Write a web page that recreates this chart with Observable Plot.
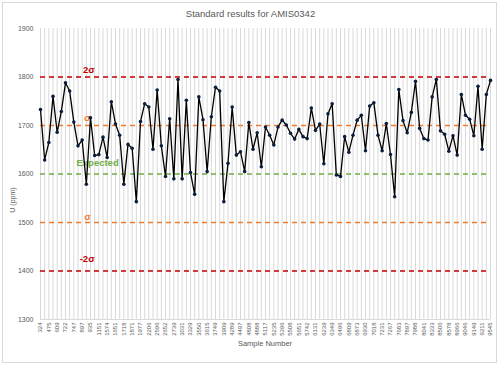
<!DOCTYPE html>
<html><head><meta charset="utf-8">
<script src="https://cdn.jsdelivr.net/npm/d3@7"></script>
<script src="https://cdn.jsdelivr.net/npm/@observablehq/plot@0.6"></script>
<style>
body{margin:0;background:#fff;font-family:"Liberation Sans",Arial,sans-serif;}
#wrap{position:relative;width:501px;height:367px;overflow:hidden;}
#frame{position:absolute;left:2px;top:2px;width:495px;height:361px;border:1px solid #d9d9d9;box-sizing:border-box;}
#title{position:absolute;left:0;width:501px;top:8px;text-align:center;font-size:9.5px;color:#595959;}
#xlab{position:absolute;left:40px;width:450px;top:339px;text-align:center;font-size:7.5px;color:#595959;}
#ylab{position:absolute;left:12px;top:200px;font-size:7px;color:#595959;transform:translate(-50%,-50%) rotate(-90deg);white-space:nowrap;}
#chart{position:absolute;left:0;top:0;}
</style></head>
<body>
<div id="wrap">
<div id="frame"></div>
<div id="chart"></div>
<div id="title">Standard results for AMIS0342</div>
<div id="xlab">Sample Number</div>
<div id="ylab">U (ppm)</div>
</div>
<script>
// Tick labels (every other sample is labelled)
const sampleLabels = ["324","475","609","722","747","897","935","1151","1574","1651",
"1718","1871","1977","2206","2596","2652","2739","3031","3329","3550",
"3615","3749","3909","4289","4497","4808","4888","5117","5235","5396",
"5508","5651","5742","6131","6239","6349","6496","6809","6873","6930",
"7018","7231","7267","7683","7897","7988","8041","8333","8506","8578",
"8966","9046","9149","9211","9545"];

// U (ppm) result for each standard run, in order
const uValues = [
1733,1629,1665,1760,1686,1729,1788,1771,1707,1658,1670,1579,1716,1638,1640,1676,1634,1749,1703,1680,1579,1661,
1653,1543,1708,1745,1738,1651,1773,1658,1595,1714,1590,1795,1590,1752,1603,1558,1759,1712,1605,1718,1779,1771,
1543,1622,1738,1639,1646,1605,1706,1651,1685,1615,1697,1680,1660,1697,1711,1701,1684,1672,1692,1677,1673,1736,
1690,1703,1621,1724,1745,1598,1595,1677,1645,1680,1711,1721,1648,1740,1747,1680,1648,1704,1640,1553,1774,
1710,1685,1727,1791,1694,1673,1670,1759,1795,1689,1682,1647,1679,1639,1764,1721,1713,1679,1781,1651,1764,1793];

// Reference levels
const refValues = [1800,1700,1600,1500,1400];
const refNames = ["2σ","σ","Expected","σ","-2σ"];
const yTicks = [1300,1400,1500,1600,1700,1800,1900];

// styling / placement config
const refColors = ["#c00000","#ed7d31","#70ad47","#ed7d31","#c00000"];
const labelX = [11.6,11.2,13.7,11.3,11.2];
const labelDy = [-7,-8,-11,-6,-12.5];

const idx = d3.range(uValues.length);
const n = uValues.length;

const marks = [
  Plot.ruleX(idx, {x: d => d, stroke: "#d9d9d9", strokeWidth: 1}),
  Plot.ruleY([1300], {stroke: "#d9d9d9"}),
  ...refValues.map((v, i) => Plot.ruleY([v], {stroke: refColors[i], strokeWidth: 1.5, strokeDasharray: "5,4"})),
  ...refValues.map((v, i) => Plot.text([refNames[i]], {x: () => labelX[i], y: () => v, dy: labelDy[i], fill: refColors[i], fontWeight: "bold", fontSize: 9.5})),
  Plot.line(idx, {x: d => d, y: d => uValues[d], stroke: "#000", strokeWidth: 1.3}),
  Plot.dot(idx, {x: d => d, y: d => uValues[d], r: 1.8, fill: "#0b1e3d", stroke: null}),
  Plot.axisY({ticks: yTicks, tickFormat: d3.format("d"), tickSize: 0, tickPadding: 7, fontSize: 7, color: "#595959", label: null}),
  Plot.axisX({ticks: d3.range(0, n, 2), tickFormat: i => sampleLabels[i / 2], tickRotate: -90, tickSize: 0, tickPadding: 3, fontSize: 6, color: "#595959", label: null})
];

const chart = Plot.plot({
  width: 501, height: 367,
  marginLeft: 40, marginRight: 11, marginTop: 28, marginBottom: 48,
  x: {type: "linear", domain: [0, n - 1], axis: null},
  y: {domain: [1300, 1900], axis: null},
  style: {fontFamily: "'Liberation Sans', Arial, sans-serif", background: "transparent"},
  marks
});
document.getElementById("chart").appendChild(chart);
</script>
</body></html>
